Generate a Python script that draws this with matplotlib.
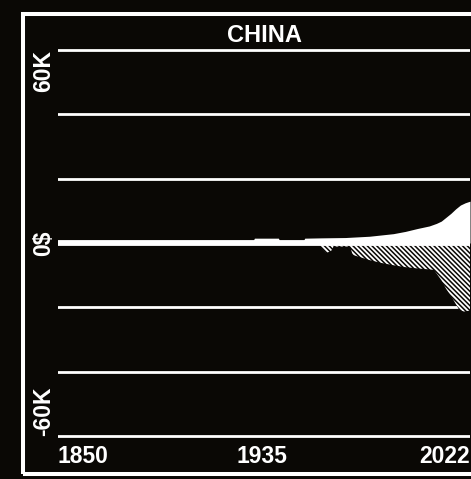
import matplotlib
matplotlib.use("Agg")
import matplotlib.pyplot as plt
from matplotlib.patches import Rectangle

# values (USD, per year)
pos_years = [1850, 1931, 1932, 1942, 1943, 1952, 1953, 1960, 1970, 1980, 1985,
             1990, 1995, 2000, 2005, 2008, 2010, 2012, 2014, 2016, 2018, 2020, 2022]
pos_values = [0, 0, 1500, 1500, 0, 0, 1500, 1600, 1700, 2100, 2500,
              2900, 3600, 4500, 5300, 6100, 6800, 8000, 9200, 10600, 11800, 12500, 13000]

neg_years = [1850, 1959, 1960, 1962, 1964, 1965, 1972, 1973, 1980, 1985, 1990,
             1995, 2000, 2005, 2007, 2010, 2012, 2014.7, 2017.5, 2019.5, 2022]
neg_values = [0, 0, -1500, -3100, -2500, -1100, -1100, -3700, -5300, -6200, -6900,
              -7500, -7900, -8200, -8400, -11500, -14200, -17200, -20800, -21300, -21000]

grid_levels = [-60000, -40000, -20000, 0, 20000, 40000, 60000]
y_labels = {-60000: "-60K", 0: "0$", 60000: "60K"}
x_ticks = [1850, 1935, 2022]
title = "CHINA"

bg = "#0a0805"
plt.rcParams["font.family"] = ["Liberation Sans", "DejaVu Sans"]
plt.rcParams["font.weight"] = "bold"
plt.rcParams["hatch.linewidth"] = 1.3

fig = plt.figure(figsize=(4.71, 4.79), dpi=100, facecolor=bg)
ax = fig.add_axes([58 / 471, 1 - 438 / 479, 412 / 471, 390 / 479])
ax.set_facecolor(bg)

ax.fill_between(pos_years, 0, pos_values, color="white", lw=0, zorder=3)
ax.fill_between(neg_years, 0, neg_values, facecolor=bg, edgecolor="white",
                hatch="\\" * 7, lw=0, zorder=3)

for lvl in grid_levels:
    ax.axhline(lvl, color="white", lw=4.2 if lvl == 0 else 2.0,
               zorder=4 if lvl == 0 else 1)

ax.set_xlim(1850, 2022)
ax.set_ylim(-60600, 60600)

ax.set_xticks(x_ticks)
ax.set_xticklabels([str(y) for y in x_ticks])
ax.set_yticks(list(y_labels.keys()))
ax.set_yticklabels(list(y_labels.values()), rotation=90)
ax.tick_params(axis="x", length=0, pad=5, labelsize=16.5, labelcolor="white")
ax.tick_params(axis="y", length=0, pad=2, labelsize=16.5, labelcolor="white")

xl = ax.get_xticklabels()
xl[0].set_ha("left")
xl[-1].set_ha("right")
yl = ax.get_yticklabels()
yl[0].set_va("bottom")
yl[1].set_va("center")
yl[2].set_va("top")

for s in ax.spines.values():
    s.set_visible(False)

ax.set_title(title, color="white", fontsize=17, fontweight="bold", pad=4.5)

# white frame around the panel (right edge runs off the image)
fig.add_artist(Rectangle((23 / 471, 1 - 473.5 / 479), 1.0, (473.5 - 13.8) / 479,
                         transform=fig.transFigure, fill=False, ec="white",
                         lw=2.9, clip_on=False))

fig.savefig("out.png", dpi=100, facecolor=bg)
